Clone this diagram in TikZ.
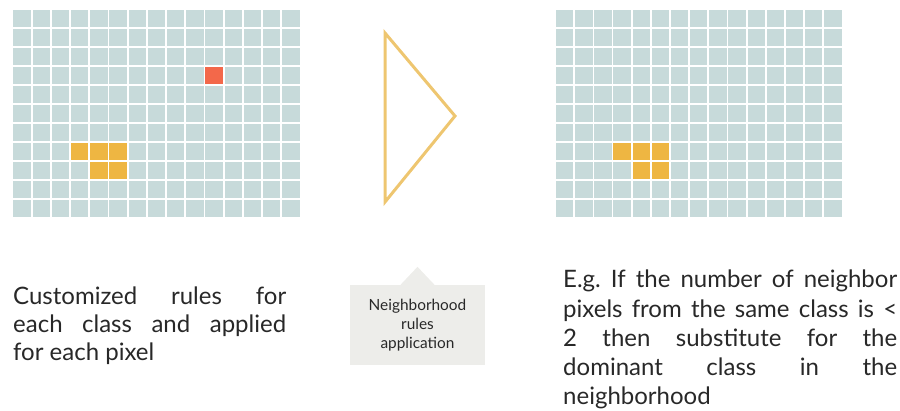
\documentclass[tikz,border=0pt]{standalone}
\usepackage{fontspec}
\setmainfont{Lato}
\usepackage{tikz}

\definecolor{cellgrey}{RGB}{199,218,218}
\definecolor{pxorange}{RGB}{238,182,66}
\definecolor{pxred}{RGB}{243,104,74}
\definecolor{arrowgold}{RGB}{238,198,112}
\definecolor{boxgrey}{RGB}{237,237,234}
\definecolor{textgrey}{RGB}{40,40,40}

% one justified line of given width
\newcommand{\jline}[2]{\makebox[#1][s]{#2}}

\begin{document}
\frenchspacing
\begin{tikzpicture}[x=1pt,y=-1pt,
    note/.style={inner sep=0pt, text=textgrey, align=left,
        font=\fontsize{24}{28}\selectfont},
    rulebox/.style={fill=boxgrey, inner sep=0pt, text=textgrey, align=center,
        minimum width=135pt, minimum height=80pt,
        font=\fontsize{15.4}{19}\selectfont}]
    \useasboundingbox (0,0) rectangle (900,410);

    % left grid, before
    \begin{scope}[shift={(13.3,10)}]
        \foreach \col in {0,...,14}
            \foreach \row in {0,...,10}
                \fill[cellgrey] ({19.2*\col},{19*\row}) rectangle ++(17.4,17.2);
        \foreach \col/\row in {3/7,4/7,5/7,4/8,5/8}
            \fill[pxorange] ({19.2*\col},{19*\row}) rectangle ++(17.4,17.2);
        \fill[pxred] ({19.2*10},{19*3}) rectangle ++(17.4,17.2);
    \end{scope}

    % right grid, after
    \begin{scope}[shift={(556,10)}]
        \foreach \col in {0,...,14}
            \foreach \row in {0,...,10}
                \fill[cellgrey] ({19.15*\col},{19*\row}) rectangle ++(17.4,17.2);
        \foreach \col/\row in {3/7,4/7,5/7,4/8,5/8}
            \fill[pxorange] ({19.15*\col},{19*\row}) rectangle ++(17.4,17.2);
    \end{scope}

    % big arrow head
    \draw[arrowgold, line width=3pt, line join=miter]
        (385,33) -- (455,116) -- (385,202) -- cycle;

    % callout
    \node[rulebox] (rulesbox) at (417.5,325)
        {Neighborhood\\rules\\application};
    \fill[boxgrey] ([xshift=-17pt]rulesbox.north) -- ([yshift=18pt]rulesbox.north)
        -- ([xshift=17pt]rulesbox.north) -- cycle;

    % notes
    \node[note, anchor=north west] (leftnote) at (13,287)
        {\jline{273pt}{Customized rules for}\\
         \jline{273pt}{each class and applied}\\
         for each pixel};
    \node[note, anchor=north west, font=\fontsize{24}{29.2}\selectfont]
        (rightnote) at (563,270)
        {\jline{334pt}{E.g.\ If the number of neighbor}\\
         \jline{334pt}{pixels from the same class is <}\\
         \jline{334pt}{2 then substitute for the}\\
         \jline{334pt}{dominant class in the}\\
         neighborhood};
\end{tikzpicture}
\end{document}
